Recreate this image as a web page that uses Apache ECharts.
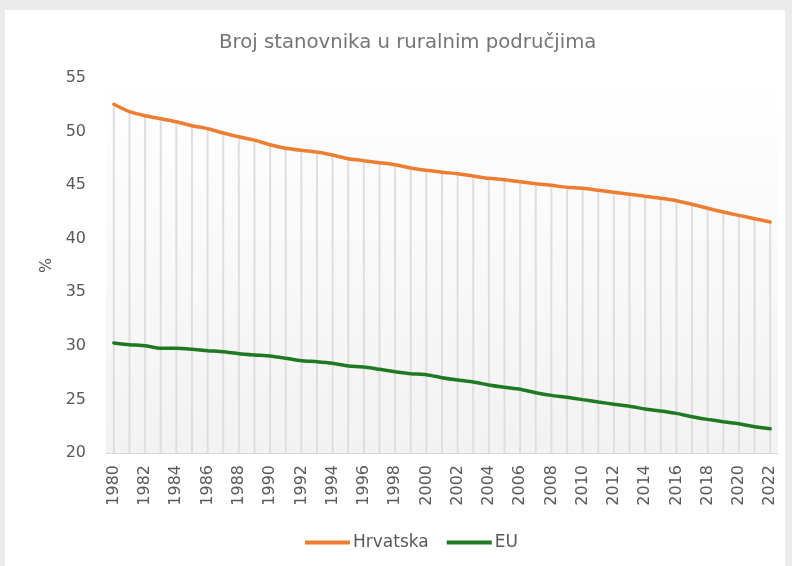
<!DOCTYPE html>
<html>
<head>
<meta charset="utf-8">
<script src="https://cdn.jsdelivr.net/npm/echarts@6/dist/echarts.min.js"></script>
<style>
html,body{margin:0;padding:0;background:#ebebeb;width:792px;height:566px;overflow:hidden;}
#card{position:absolute;left:5px;top:10px;width:780px;height:556px;background:#ffffff;}
#chart{width:780px;height:556px;}
</style>
</head>
<body>
<div id="card"><div id="chart"></div></div>
<script>
const years = [];
for (let y = 1980; y <= 2022; y++) years.push(String(y));

const hrvatska = [52.55,51.86,51.48,51.2,50.92,50.55,50.27,49.87,49.52,49.2,48.77,48.44,48.25,48.1,47.81,47.47,47.28,47.1,46.91,46.6,46.38,46.2,46.07,45.85,45.64,45.51,45.32,45.13,44.98,44.8,44.7,44.52,44.33,44.15,43.96,43.77,43.55,43.21,42.84,42.49,42.18,41.87,41.56];

const eu = [30.27,30.11,30.01,29.77,29.77,29.68,29.55,29.45,29.27,29.15,29.05,28.84,28.61,28.52,28.37,28.12,28.03,27.81,27.59,27.4,27.31,27.03,26.81,26.63,26.35,26.13,25.95,25.63,25.38,25.2,24.98,24.76,24.55,24.36,24.11,23.92,23.7,23.39,23.14,22.92,22.73,22.45,22.27];

const titleText = 'Broj stanovnika u ruralnim područjima';
const yName = '%';

const chart = echarts.init(document.getElementById('chart'), null, {renderer: 'canvas'});
const txt = '#595959';
const font = '"DejaVu Sans", sans-serif';

chart.setOption({
  animation: false,
  title: {
    text: titleText,
    left: 209,
    top: 18,
    textStyle: {color: '#757575', fontSize: 19.7, fontWeight: 'normal', fontFamily: font}
  },
  legend: {
    data: ['Hrvatska', 'EU'],
    top: 519,
    left: 295,
    icon: 'rect',
    itemWidth: 45,
    itemHeight: 4,
    itemGap: 18,
    textStyle: {color: txt, fontSize: 17, fontFamily: font, padding: [0,0,0,-2]}
  },
  grid: {
    left: 101,
    top: 68,
    width: 672,
    height: 375,
    show: true,
    borderWidth: 0,
    backgroundColor: new echarts.graphic.LinearGradient(0, 0, 0, 1, [
      {offset: 0, color: '#ffffff'},
      {offset: 1, color: '#f2f2f2'}
    ])
  },
  xAxis: {
    type: 'category',
    data: years,
    boundaryGap: true,
    axisLine: {lineStyle: {color: '#d9d9d9', width: 1}},
    axisTick: {show: false},
    axisLabel: {
      rotate: 90,
      interval: 1,
      color: txt,
      fontSize: 16,
      fontFamily: font,
      margin: 12
    },
    splitLine: {show: false}
  },
  yAxis: {
    type: 'value',
    min: 20,
    max: 55,
    interval: 5,
    name: yName,
    nameLocation: 'middle',
    nameGap: 51,
    nameRotate: 90,
    nameTextStyle: {color: txt, fontSize: 16, fontFamily: font},
    axisLine: {show: false},
    axisTick: {show: false},
    splitLine: {show: false},
    axisLabel: {color: txt, fontSize: 16, fontFamily: font, margin: 20}
  },
  series: [
    {
      name: 'drop',
      type: 'bar',
      data: hrvatska,
      barWidth: 2,
      itemStyle: {color: '#dedede'},
      silent: true,
      z: 1
    },
    {
      name: 'Hrvatska',
      type: 'line',
      data: hrvatska,
      smooth: 0.2,
      symbol: 'none',
      lineStyle: {color: '#ED7D31', width: 3.5, cap: 'round'},
      itemStyle: {color: '#ED7D31'},
      z: 3
    },
    {
      name: 'EU',
      type: 'line',
      data: eu,
      smooth: 0.2,
      symbol: 'none',
      lineStyle: {color: '#1E7A22', width: 3.5, cap: 'round'},
      itemStyle: {color: '#1E7A22'},
      z: 3
    }
  ]
});
</script>
</body>
</html>
